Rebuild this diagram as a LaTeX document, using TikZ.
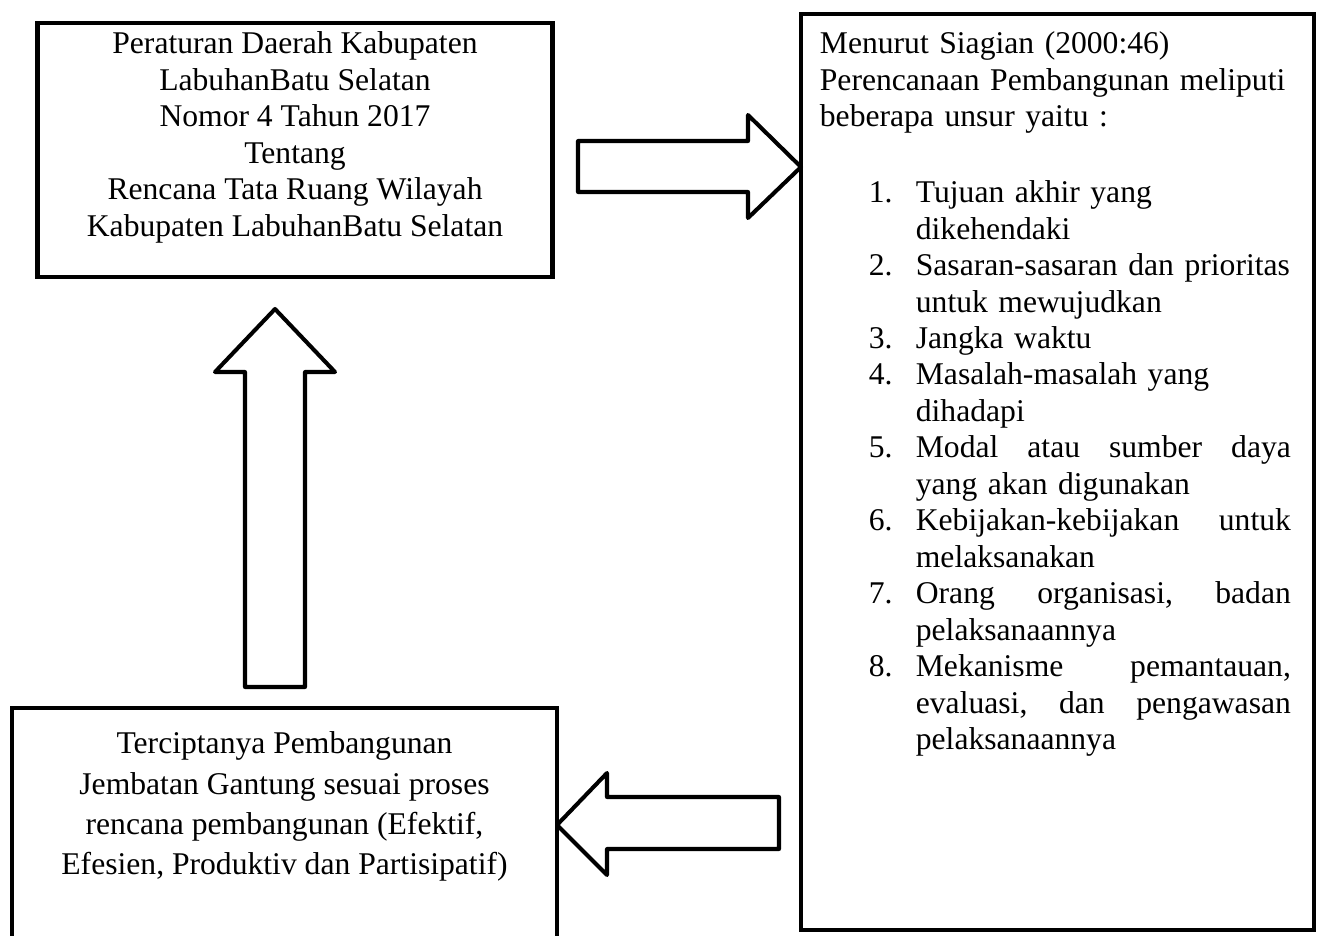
\documentclass[tikz,border=0pt]{standalone}
\usepackage{fontspec}
\setmainfont{Liberation Serif}
\usetikzlibrary{positioning}
\newcommand{\numbox}[1]{\hspace*{0.98cm}\makebox[0.94cm][l]{#1}}
\newcommand{\hang}{\hspace*{1.92cm}}
\begin{document}
\begin{tikzpicture}
\newcommand{\xsize}{0.02}
\newcommand{\ysize}{-0.02}
\newcommand{\px}{0.02cm}
\tikzstyle{box}=[draw,line width=2.8pt,inner sep=0pt]
\tikzstyle{blockarrow}=[draw,line width=2.3pt,line join=round]
\tikzstyle{boxtext}=[inner sep=0pt,font=\fontsize{18}{20.75}\selectfont]
\useasboundingbox (0,0) rectangle (\xsize*1320,\ysize*936);
% boxes
\node[box,minimum width=515*\px,minimum height=254*\px] (perda) at (\xsize*295,\ysize*150) {};
\node[box,minimum width=513*\px,minimum height=916*\px] (siagian) at (\xsize*1057.5,\ysize*472) {};
\node[box,minimum width=545*\px,minimum height=272*\px] (hasil) at (\xsize*284.5,\ysize*844) {};
% texts
\node[boxtext,align=center,below=11*\px of perda.north] (perdatext) {Peraturan Daerah Kabupaten\\LabuhanBatu Selatan\\Nomor 4 Tahun 2017\\Tentang\\Rencana Tata Ruang Wilayah\\Kabupaten LabuhanBatu Selatan};
\node[boxtext,align=left,text width=471*\px,below right=20*\px and 21*\px of siagian.north west] (siagiantext) {Menurut Siagian (2000:46)\\Perencanaan Pembangunan meliputi\\beberapa unsur yaitu :\\[0.06cm]\mbox{}\\
\numbox{1.}Tujuan akhir yang\\
\hang dikehendaki\\
\numbox{2.}Sasaran-sasaran dan prioritas\\
\hang untuk mewujudkan\\
\numbox{3.}Jangka waktu\\
\numbox{4.}Masalah-masalah yang\\
\hang dihadapi\\
\numbox{5.}Modal\hfill atau\hfill sumber\hfill daya\\
\hang yang akan digunakan\\
\numbox{6.}Kebijakan-kebijakan\hfill untuk\\
\hang melaksanakan\\
\numbox{7.}Orang\hfill organisasi,\hfill badan\\
\hang pelaksanaannya\\
\numbox{8.}Mekanisme\hfill pemantauan,\\
\hang evaluasi,\hfill dan\hfill pengawasan\\
\hang pelaksanaannya};
\node[boxtext,align=center,font=\fontsize{18}{22.9}\selectfont,below=26*\px of hasil.north] (hasiltext) {Terciptanya Pembangunan\\Jembatan Gantung sesuai proses\\rencana pembangunan (Efektif,\\Efesien, Produktiv dan Partisipatif)};
% block arrows
\draw[blockarrow] (\xsize*578,\ysize*141) -- (\xsize*748,\ysize*141) -- (\xsize*748,\ysize*115) -- (\xsize*801,\ysize*167) -- (\xsize*748,\ysize*218) -- (\xsize*748,\ysize*192) -- (\xsize*578,\ysize*192) -- cycle;
\draw[blockarrow] (\xsize*245,\ysize*687) -- (\xsize*245,\ysize*372) -- (\xsize*215,\ysize*372) -- (\xsize*275,\ysize*309) -- (\xsize*335,\ysize*372) -- (\xsize*305,\ysize*372) -- (\xsize*305,\ysize*687) -- cycle;
\draw[blockarrow] (\xsize*779,\ysize*797) -- (\xsize*607,\ysize*797) -- (\xsize*607,\ysize*773) -- (\xsize*557,\ysize*825) -- (\xsize*607,\ysize*875) -- (\xsize*607,\ysize*849) -- (\xsize*779,\ysize*849) -- cycle;
\end{tikzpicture}
\end{document}
